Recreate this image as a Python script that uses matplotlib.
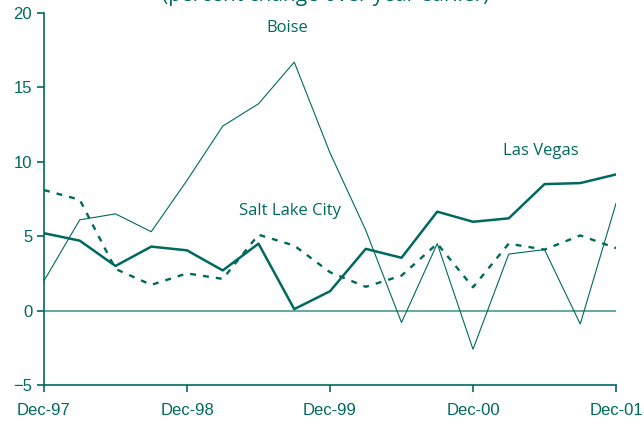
import numpy as np
import matplotlib
matplotlib.use("Agg")
from matplotlib import pyplot as plt

# quarterly, Dec-97 .. Dec-01 (percent change over year earlier)
quarters = np.arange(17)
tick_pos = [0, 4, 8, 12, 16]
tick_labels = ["Dec-97", "Dec-98", "Dec-99", "Dec-00", "Dec-01"]

boise = [2.0, 6.1, 6.5, 5.3, 8.75, 12.4, 13.9, 16.7, 10.6, 5.4, -0.8, 4.5, -2.6, 3.8, 4.1, -0.9, 7.2]
las_vegas = [5.2, 4.7, 3.0, 4.3, 4.05, 2.7, 4.5, 0.1, 1.3, 4.15, 3.55, 6.65, 5.97, 6.2, 8.5, 8.57, 9.15]
salt_lake = [8.1, 7.45, 2.8, 1.73, 2.5, 2.13, 5.1, 4.37, 2.58, 1.6, 2.35, 4.5, 1.57, 4.5, 4.1, 5.05, 4.2]

teal = "#00695e"
light_teal = "#6aaaa2"

fig = plt.figure(figsize=(6.44, 4.25), dpi=100)
ax = fig.add_axes([44/644, 1 - 385/425, (616-44)/644, (385-13)/425])

ax.axhline(0, color=light_teal, lw=1.5, zorder=1)
ax.plot(quarters, boise, color=teal, lw=0.8)
ax.plot(quarters, las_vegas, color=teal, lw=1.8)
ax.plot(quarters, salt_lake, color=teal, lw=1.7, ls=(0, (2.5, 3)))

ax.text(6.8, 19.0, "Boise", color=teal, fontsize=12, ha="center", va="center", family="Open Sans")
ax.text(13.9, 10.7, "Las Vegas", color=teal, fontsize=12, ha="center", va="center", family="Open Sans")
ax.text(6.88, 6.7, "Salt Lake City", color=teal, fontsize=12, ha="center", va="center", family="Open Sans")

# title sits mostly above the top edge in the original
fig.text(326/644, 1 - 1.5/425, "(percent change over year earlier)", color=teal, fontsize=15,
         ha="center", va="baseline", family="Open Sans")

ax.set_xlim(0, 16)
ax.set_ylim(-5, 20)
ax.set_xticks(tick_pos)
ax.set_xticklabels(tick_labels)
ax.set_yticks([-5, 0, 5, 10, 15, 20])
for s in ["top", "right"]:
    ax.spines[s].set_visible(False)
for s in ["left", "bottom"]:
    ax.spines[s].set_color(teal)
    ax.spines[s].set_linewidth(1.2)
ax.tick_params(colors=teal, labelcolor=teal, length=5, width=1.2, labelsize=12)
ax.tick_params(axis="x", pad=8)
for lab in ax.get_xticklabels() + ax.get_yticklabels():
    lab.set_family("Liberation Sans")

fig.savefig("out.png", dpi=100)
